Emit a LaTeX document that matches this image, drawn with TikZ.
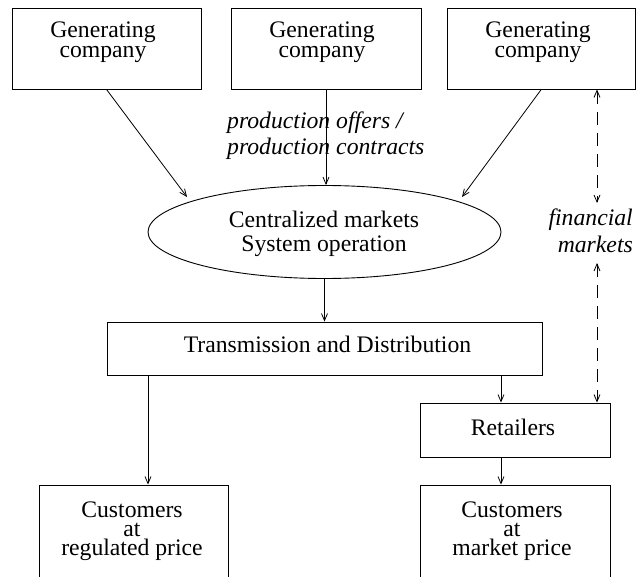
\documentclass[tikz,border=0pt]{standalone}
\usepackage{fontspec}
\setmainfont{Liberation Serif}
\usetikzlibrary{arrows.meta,shapes.geometric}
\begin{document}
\begin{tikzpicture}[x=1pt,y=-1pt,
  box/.style={draw,line width=0.9pt,inner sep=0pt},
  lbl/.style={font=\fontsize{23.7}{20}\selectfont,align=center,inner sep=0pt,anchor=base},
  ital/.style={font=\fontsize{23.7}{26.7}\selectfont\itshape,inner sep=0pt},
  arr/.style={line width=0.8pt,-{Straight Barb[length=7pt,width=6pt]}},
  darr/.style={line width=0.8pt,dash pattern=on 13pt off 8pt,{Straight Barb[length=7pt,width=6pt]}-{Straight Barb[length=7pt,width=6pt]}}]
\clip (0,0) rectangle (636,577);
% boxes
\node[box,minimum width=189pt,minimum height=81pt] (g1) at (106.5,48.5) {};
\node[box,minimum width=190pt,minimum height=81pt] (g2) at (326,48.5) {};
\node[box,minimum width=188.5pt,minimum height=81pt] (g3) at (541.25,48.5) {};
\node[draw,ellipse,line width=0.9pt,inner sep=0pt,minimum width=353pt,minimum height=93pt] (ell) at (324.5,232) {};
\node[box,minimum width=435pt,minimum height=53pt] (td) at (324.5,348.5) {};
\node[box,minimum width=190pt,minimum height=54pt] (ret) at (515,430) {};
\node[box,minimum width=189pt,minimum height=120pt] (c1) at (133.5,545) {};
\node[box,minimum width=190pt,minimum height=120pt] (c2) at (515,545) {};
% texts (base anchor = baseline of the last line)
\node[lbl] (g1t) at (103,57.7) {Generating\\company};
\node[lbl] (g2t) at (322,57.7) {Generating\\company};
\node[lbl] (g3t) at (538,57.7) {Generating\\company};
\node[lbl,font=\fontsize{23.7}{24}\selectfont] (ellt) at (324,251) {Centralized markets\\System operation};
\node[lbl] (tdt) at (327.5,352) {Transmission and Distribution};
\node[lbl] (rett) at (513,435) {Retailers};
\node[lbl,font=\fontsize{23.7}{19}\selectfont] (c1t) at (132,555) {Customers\\at\\regulated price};
\node[lbl,font=\fontsize{23.7}{19}\selectfont] (c2t) at (512,555) {Customers\\at\\market price};
\node[ital,align=left,anchor=base west] (prod) at (227,155) {production offers /\\production contracts};
\node[ital,align=right,anchor=base east] (fin) at (633,252) {financial\\markets};
% helper coordinates
\coordinate (t1) at (187,197);
\coordinate (t3) at (462,197);
\coordinate (xa) at (148,0);
\coordinate (xb) at (501,0);
\coordinate (xd) at (597,0);
\coordinate (f1) at (597,203);
\coordinate (f2) at (597,263);
% connectors
\draw[arr] (g1.south) -- (t1);
\draw[arr] (g2.south) -- (g2.south |- ell.north);
\draw[arr] (g3.south) -- (t3);
\draw[arr] (ell.south) -- (td.north);
\draw[arr] (td.south -| xa) -- (c1.north -| xa);
\draw[arr] (td.south -| xb) -- (ret.north -| xb);
\draw[arr] (ret.south -| xb) -- (c2.north -| xb);
\draw[darr] (g3.south -| xd) -- (f1);
\draw[darr] (f2) -- (ret.north -| xd);
\end{tikzpicture}
\end{document}
